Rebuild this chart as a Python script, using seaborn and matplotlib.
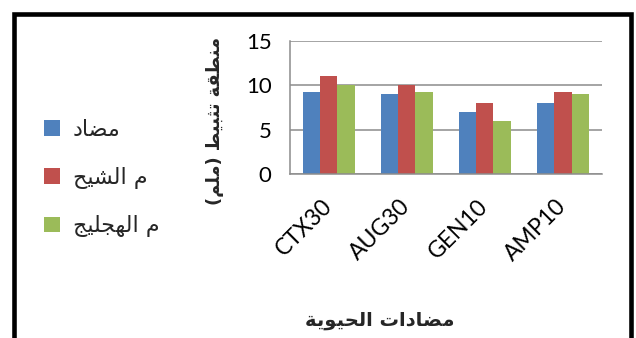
import matplotlib
matplotlib.use("Agg")
import matplotlib.pyplot as plt
from matplotlib.patches import Rectangle
from matplotlib.ticker import FixedLocator
import seaborn as sns
import pandas as pd

# ---- data ----
categories = ["CTX30", "AUG30", "GEN10", "AMP10"]
series_names = ["مضاد", "م الشيح", "م الهجليج"]
control_vals = [9.3, 9.0, 7.0, 8.0]
shih_vals = [11.0, 10.0, 8.0, 9.3]
hajlij_vals = [10.0, 9.3, 6.0, 9.0]
y_ticks = [0, 5, 10, 15]
x_title = "مضادات الحيوية"
y_title = "منطقة تثبيط (ملم)"
colors = ["#4F81BD", "#C0504D", "#9BBB59"]

# ---- Arabic shaping (contextual forms + visual RTL order) ----
# letter: (isolated, final, initial, medial); None -> letter does not join forward
FORMS = {
    "ا": ("\uFE8D", "\uFE8E", None, None),
    "ب": ("\uFE8F", "\uFE90", "\uFE91", "\uFE92"),
    "ة": ("\uFE93", "\uFE94", None, None),
    "ت": ("\uFE95", "\uFE96", "\uFE97", "\uFE98"),
    "ث": ("\uFE99", "\uFE9A", "\uFE9B", "\uFE9C"),
    "ج": ("\uFE9D", "\uFE9E", "\uFE9F", "\uFEA0"),
    "ح": ("\uFEA1", "\uFEA2", "\uFEA3", "\uFEA4"),
    "د": ("\uFEA9", "\uFEAA", None, None),
    "ش": ("\uFEB5", "\uFEB6", "\uFEB7", "\uFEB8"),
    "ض": ("\uFEBD", "\uFEBE", "\uFEBF", "\uFEC0"),
    "ط": ("\uFEC1", "\uFEC2", "\uFEC3", "\uFEC4"),
    "ق": ("\uFED5", "\uFED6", "\uFED7", "\uFED8"),
    "ل": ("\uFEDD", "\uFEDE", "\uFEDF", "\uFEE0"),
    "م": ("\uFEE1", "\uFEE2", "\uFEE3", "\uFEE4"),
    "ن": ("\uFEE5", "\uFEE6", "\uFEE7", "\uFEE8"),
    "ه": ("\uFEE9", "\uFEEA", "\uFEEB", "\uFEEC"),
    "و": ("\uFEED", "\uFEEE", None, None),
    "ي": ("\uFEF1", "\uFEF2", "\uFEF3", "\uFEF4"),
}
MIRROR = {"(": ")", ")": "("}


def shape_ar(text):
    out = []
    n = len(text)
    for i, ch in enumerate(text):
        if ch not in FORMS:
            out.append(ch)
            continue
        prev = text[i - 1] if i > 0 else ""
        nxt = text[i + 1] if i < n - 1 else ""
        joins_prev = prev in FORMS and FORMS[prev][2] is not None
        can_fwd = FORMS[ch][2] is not None
        joins_next = can_fwd and nxt in FORMS
        iso, fin, ini, med = FORMS[ch]
        if joins_prev and joins_next:
            out.append(med)
        elif joins_prev:
            out.append(fin)
        elif joins_next:
            out.append(ini)
        else:
            out.append(iso)
    return "".join(MIRROR.get(c, c) for c in reversed(out))


# ---- long table for seaborn ----
shaped_names = [shape_ar(s) for s in series_names]
rows = []
for name, vals in zip(shaped_names, [control_vals, shih_vals, hajlij_vals]):
    for cat, v in zip(categories, vals):
        rows.append({"cat": cat, "val": v, "series": name})
df = pd.DataFrame(rows)

sns.set_theme(style="white")
plt.rcParams["font.family"] = ["Lato", "DejaVu Sans"]

W, H = 636, 338
fig = plt.figure(figsize=(W / 100, H / 100), dpi=100)
ax = fig.add_axes([289.5 / W, 1 - 174 / H, (602 - 289.5) / W, (174 - 41) / H])

sns.barplot(data=df, x="cat", y="val", hue="series", order=categories,
            hue_order=shaped_names, palette=colors, width=0.667, gap=0,
            saturation=1, ax=ax, legend=True, edgecolor="none")

grid_c = "#8C8C8C"
ax.set_ylim(0, 15)
ax.set_xlim(-0.5, len(categories) - 0.5)
ax.set_yticks(y_ticks)
ax.yaxis.grid(True, color=grid_c, linewidth=1.1)
ax.set_axisbelow(True)
for s in ["top", "right"]:
    ax.spines[s].set_visible(False)
for s in ["left", "bottom"]:
    ax.spines[s].set_color(grid_c)
    ax.spines[s].set_linewidth(1.1)

ax.tick_params(axis="y", length=5.8, width=1.1, color=grid_c, pad=7,
               labelsize=16, labelcolor="black")
ax.tick_params(axis="x", which="major", length=0, pad=21, labelsize=16.5,
               labelcolor="black")
ax.xaxis.set_minor_locator(FixedLocator([i - 0.5 for i in range(len(categories) + 1)]))
ax.tick_params(axis="x", which="minor", length=5.8, width=1.1, color=grid_c)
for lab in ax.get_xticklabels():
    lab.set_rotation(45)
    lab.set_rotation_mode("anchor")
    lab.set_ha("right")
    lab.set_va("center")

ax.set_xlabel("")
ax.set_ylabel("")
fig.text(380 / W, 1 - 321 / H, shape_ar(x_title), ha="center", va="center",
         fontsize=14, fontweight="bold", family=["DejaVu Sans"])
fig.text(215 / W, 1 - 121 / H, shape_ar(y_title), ha="center", va="center",
         rotation=90, fontsize=12.8, fontweight="bold", family=["DejaVu Sans"])

handles, labels = ax.get_legend_handles_labels()
ax.legend(handles, labels, loc="upper left", bbox_to_anchor=(44 / W, 1 - 120 / H),
          bbox_transform=fig.transFigure, frameon=False,
          handlelength=0.7, handleheight=0.7, handletextpad=0.6,
          labelspacing=1.2, borderpad=0, borderaxespad=0,
          prop={"family": ["DejaVu Sans"], "size": 16})

# outer chart frame
fig.patches.append(Rectangle((14.5 / W, -0.1), (631 - 14.5) / W, 1.1 - 14 / H,
                             transform=fig.transFigure, fill=False,
                             edgecolor="black", linewidth=3.3, clip_on=False))

fig.savefig("out.png", dpi=100)
